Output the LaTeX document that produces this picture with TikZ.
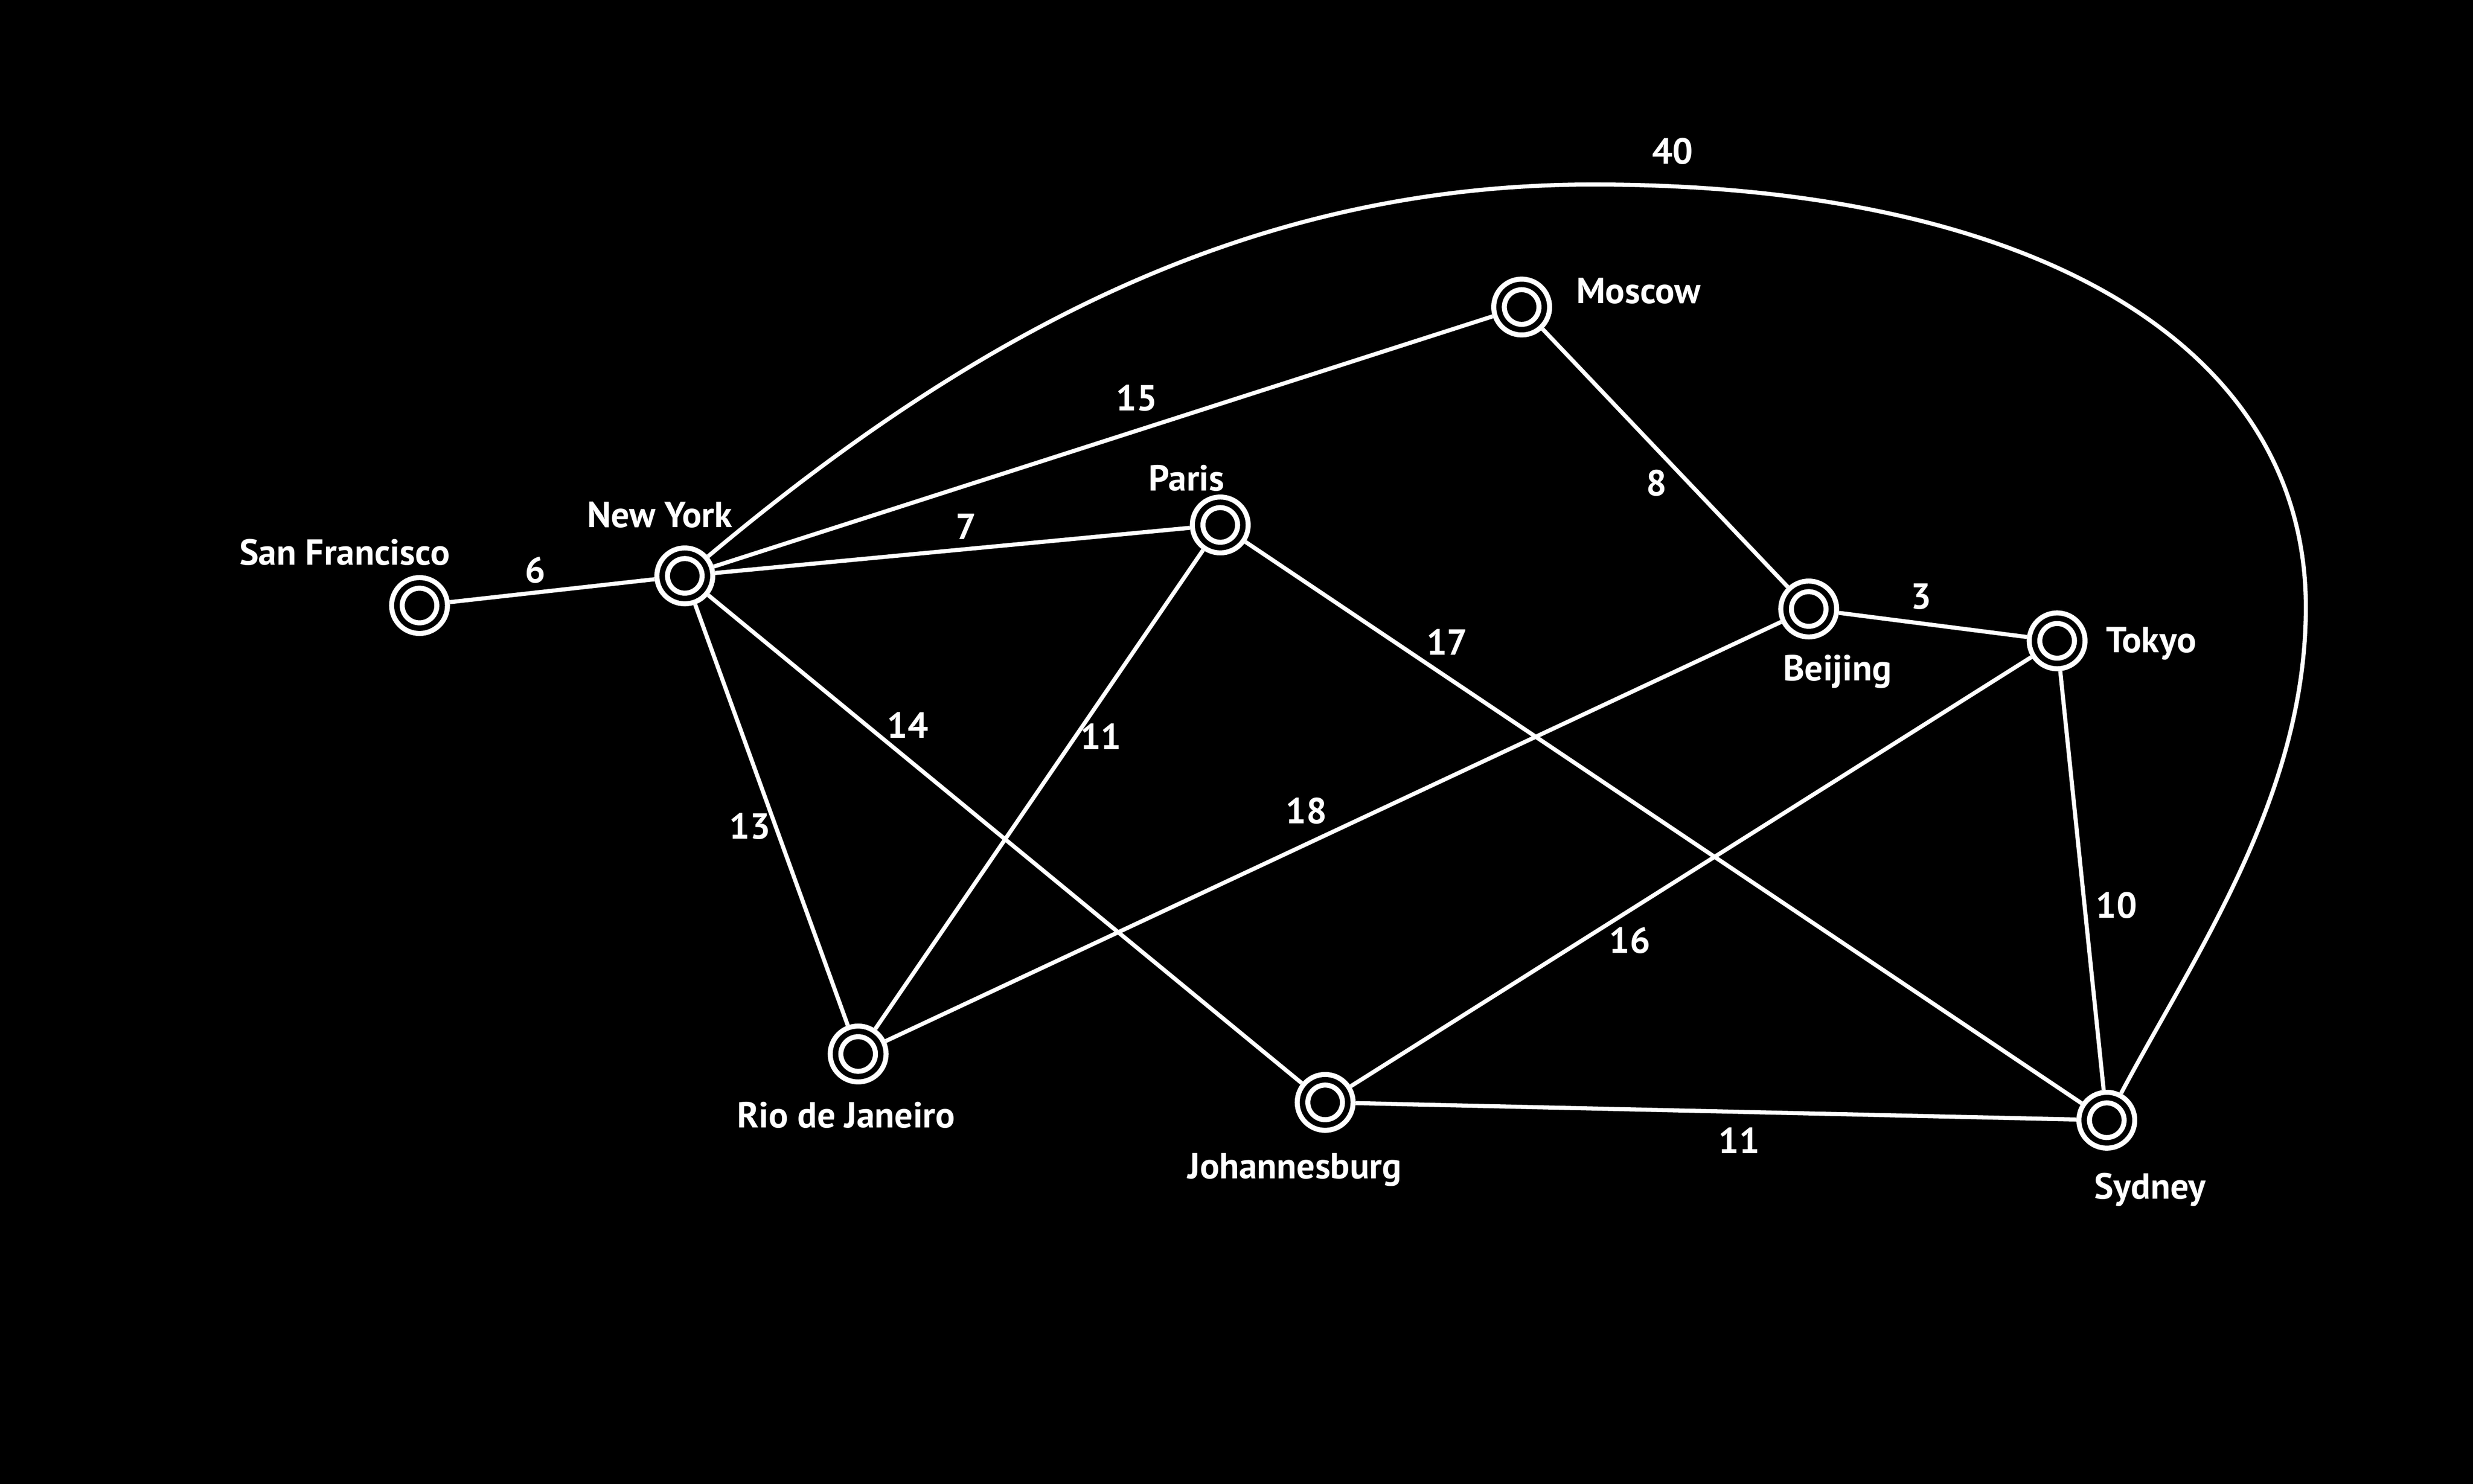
\documentclass[tikz,border=0pt]{standalone}
\usepackage{fontspec}
\setmainfont{PT Sans}
\begin{document}
\begin{tikzpicture}[x=1pt,y=-1pt,
  city/.style={circle, draw=white, double=black, line width=3.2pt, double distance=3.5pt,
               minimum size=28.7pt, inner sep=0pt, outer sep=4.95pt},
  road/.style={draw=white, line width=2.6pt},
  txt/.style={text=white, font=\bfseries\fontsize{23}{26}\selectfont, inner sep=0pt, anchor=base},
]
\useasboundingbox (0,0) rectangle (1568,940.8);
\fill[black] (-10,-10) rectangle (1580,952);

% cities
\node[city] (sf)    at (266,384)      {};
\node[city] (ny)    at (434.2,365.2)  {};
\node[city] (paris) at (773.7,332.9)  {};
\node[city] (mos)   at (964.8,194.7)  {};
\node[city] (bei)   at (1146.8,386.2) {};
\node[city] (tok)   at (1304.3,406.4) {};
\node[city] (rio)   at (544.1,668.4)  {};
\node[city] (jo)    at (840.2,699.1)  {};
\node[city] (syd)   at (1335.8,710.4) {};

% city names
\node[txt] (lsf)    at (218.5,358.3) {San Francisco};
\node[txt] (lny)    at (418.3,334.5) {New York};
\node[txt] (lparis) at (752.4,311.2) {Paris};
\node[txt] (lmos)   at (1038.9,192.3) {Moscow};
\node[txt] (lbei)   at (1165,431.7)  {Beijing};
\node[txt] (ltok)   at (1364,413.9)  {Tokyo};
\node[txt] (lrio)   at (536.5,715.2) {Rio de Janeiro};
\node[txt] (ljo)    at (820.9,747.6) {Johannesburg};
\node[txt] (lsyd)   at (1363.3,760.3) {Sydney};

% roads
\draw[road] (sf) -- (ny);
\draw[road] (ny) -- (mos);
\draw[road] (ny) -- (paris);
\draw[road] (ny) -- (rio);
\draw[road] (ny) -- (jo);
\draw[road] (paris) -- (rio);
\draw[road] (paris) -- (syd);
\draw[road] (mos) -- (bei);
\draw[road] (bei) -- (tok);
\draw[road] (bei) -- (rio);
\draw[road] (tok) -- (jo);
\draw[road] (tok) -- (syd);
\draw[road] (jo) -- (syd);

\coordinate (arctop) at (1010,117);
\coordinate (arcright) at (1462,385);
\draw[road] (ny) .. controls +(191.5,-160.7) and +(-210,0) .. (arctop)
  .. controls +(280,0) and +(0,-166) .. (arcright)
  .. controls +(0,120) and +(56.3,-106) .. (syd);

% weights
\node[txt] (w6)   at (339.5,369.5)  {6};
\node[txt] (w15)  at (720.8,260.5)  {15};
\node[txt] (w7)   at (612.7,342.1)  {7};
\node[txt] (w40)  at (1060.5,104)   {40};
\node[txt] (w8)   at (1050.4,314.4) {8};
\node[txt] (w3)   at (1218,386.2)   {3};
\node[txt] (w17)  at (917.5,415.2)  {17};
\node[txt] (w14)  at (575.6,468.1)  {14};
\node[txt] (w11a) at (698,475.3)    {11};
\node[txt] (w13)  at (475.5,532)    {13};
\node[txt] (w18)  at (828.3,522.3)  {18};
\node[txt] (w16)  at (1033.4,604.6) {16};
\node[txt] (w10)  at (1342,582.3)   {10};
\node[txt] (w11b) at (1102.7,731.4) {11};
\end{tikzpicture}
\end{document}
